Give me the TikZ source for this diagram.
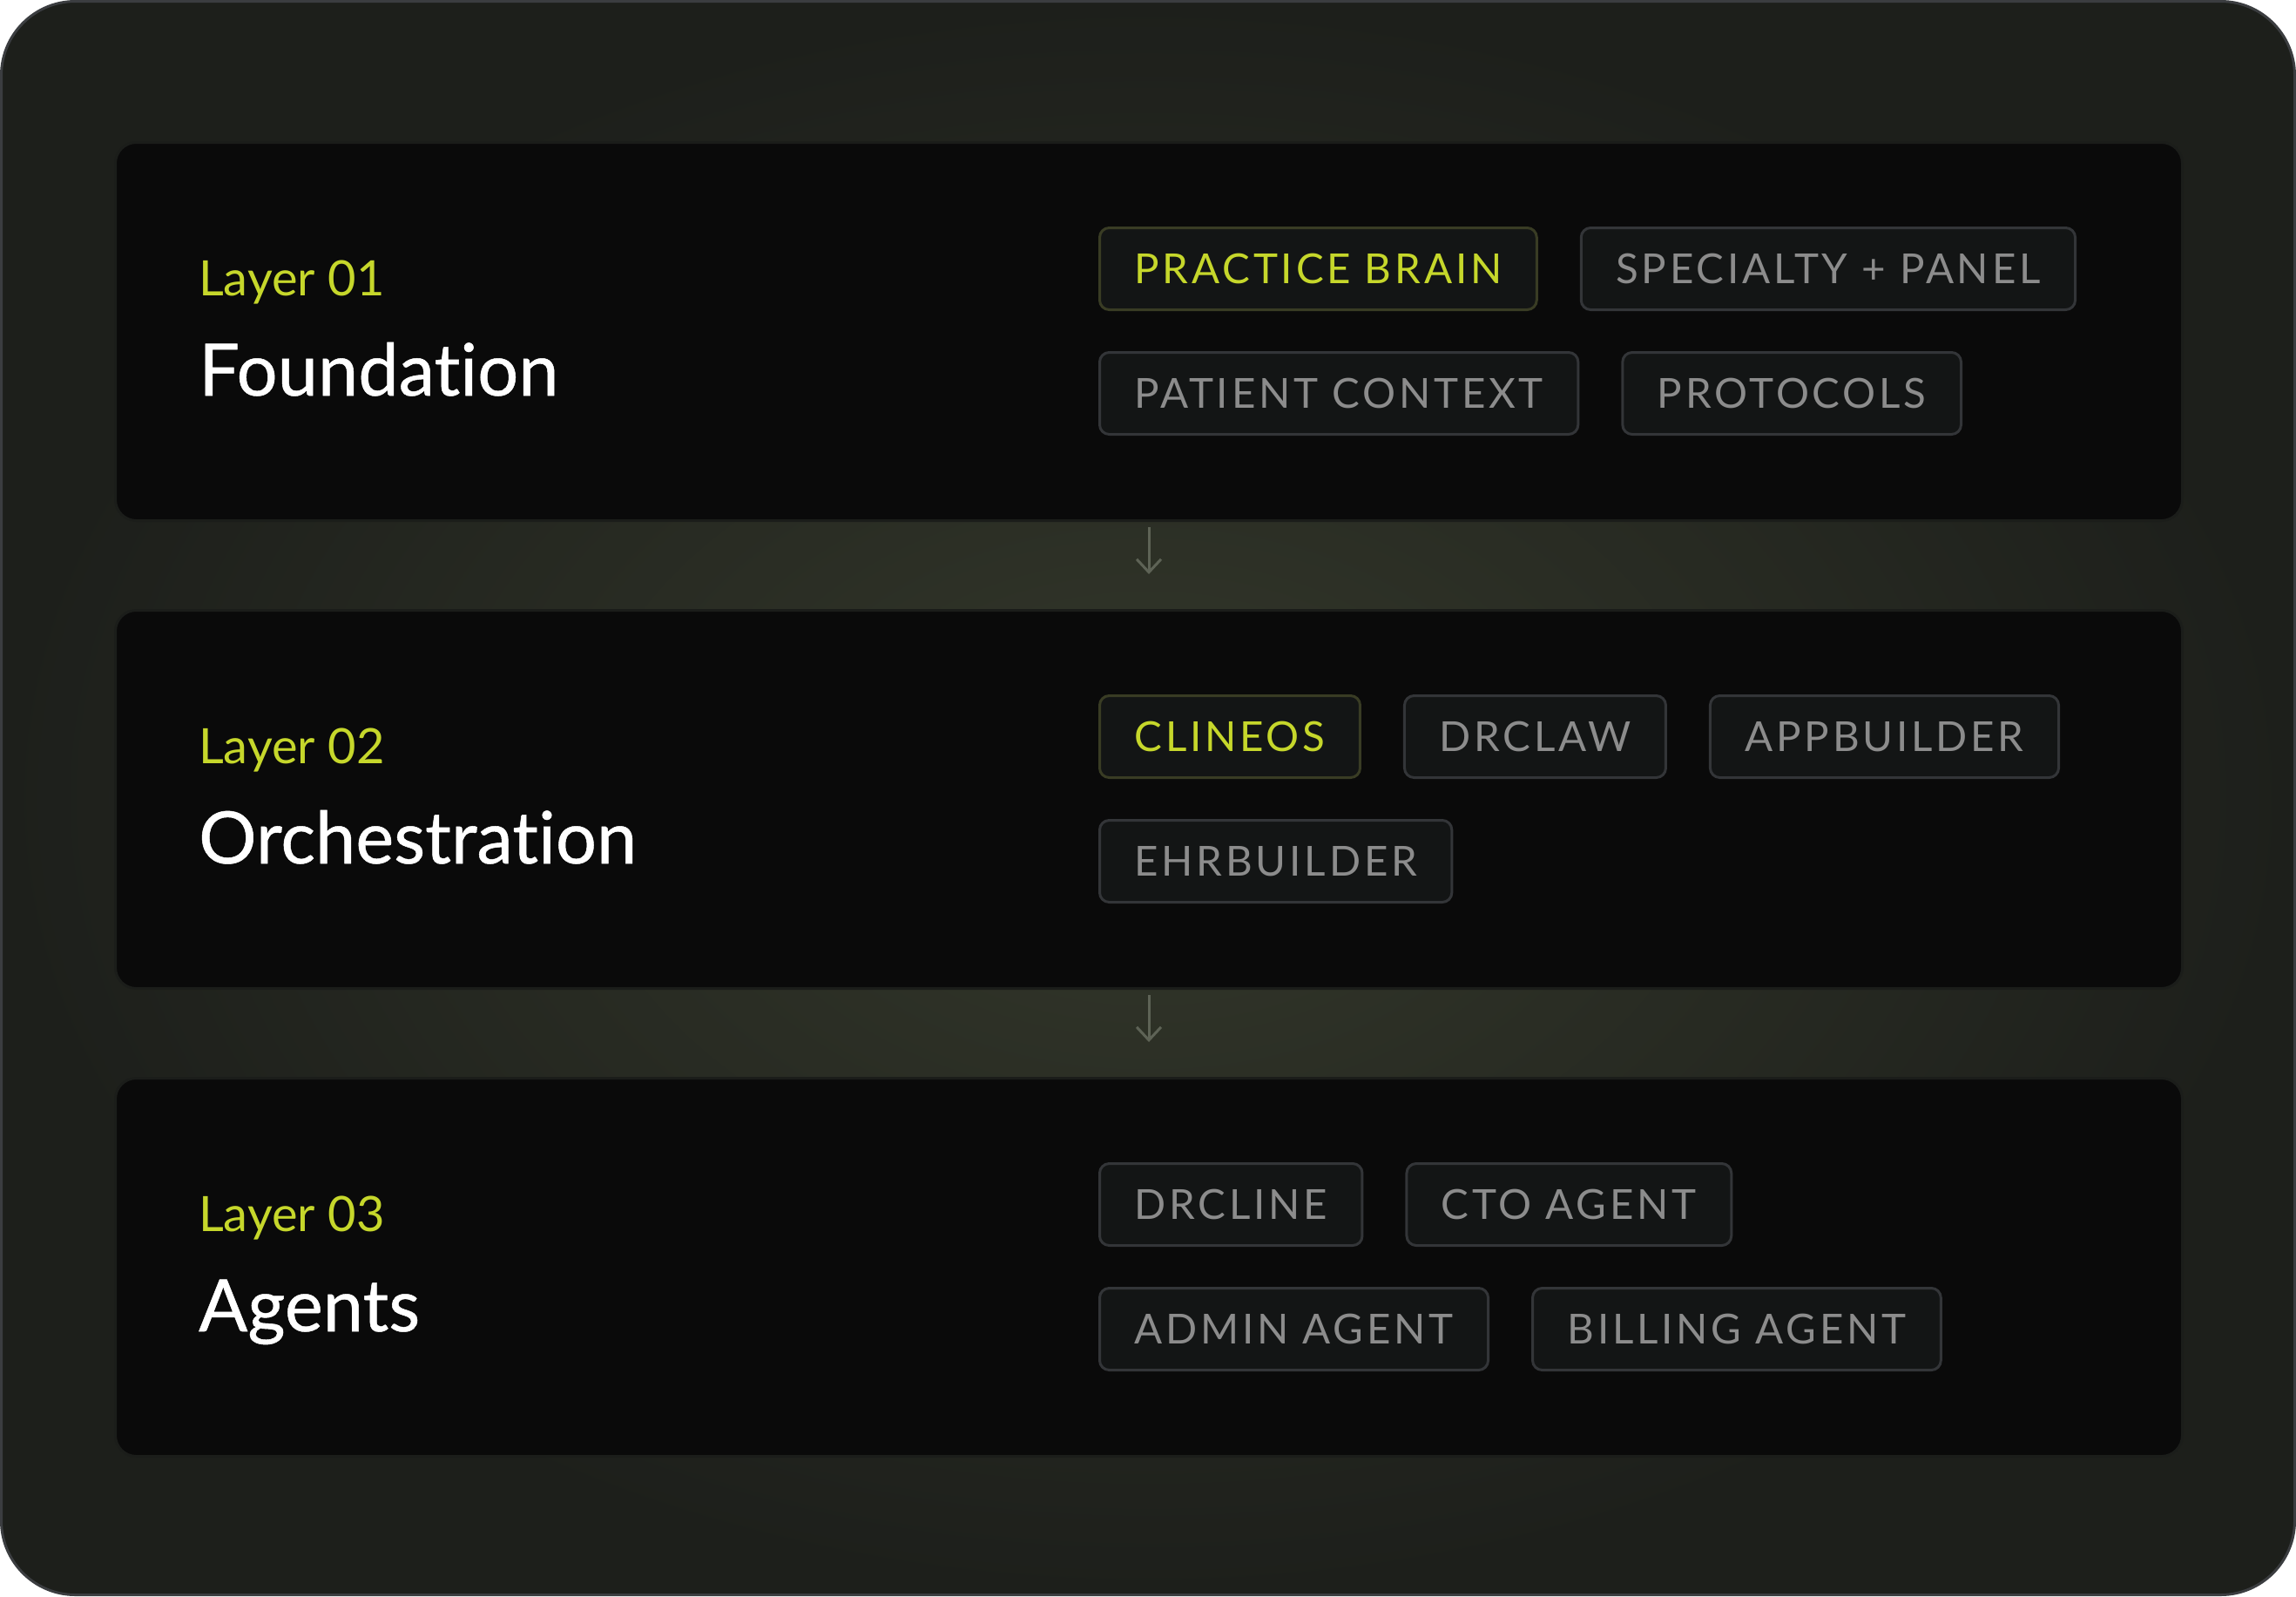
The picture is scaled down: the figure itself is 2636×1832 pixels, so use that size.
\documentclass[tikz,border=0pt]{standalone}
\usepackage{fontspec}
\setmainfont{Lato}[Ligatures=NoCommon]
\newfontfamily\tagfamily[LetterSpace=8]{Lato}
\newfontfamily\titlefamily[Ligatures=NoCommon, FakeBold=0.6]{Lato}
\usetikzlibrary{calc,positioning,arrows.meta}
\definecolor{bgmid}{HTML}{34382B}
\definecolor{bgedge}{HTML}{1D1F1B}
\definecolor{frameline}{HTML}{3B3D40}
\definecolor{panelbg}{HTML}{0A0A0A}
\definecolor{panelline}{HTML}{1B1D1A}
\definecolor{tagbg}{HTML}{131515}
\definecolor{tagline}{HTML}{333538}
\definecolor{taglinehi}{HTML}{393C24}
\definecolor{taggray}{HTML}{8C8C8C}
\definecolor{lime}{HTML}{C6D72B}
\definecolor{flowgray}{HTML}{5E6356}
\newcommand\tagfont{\tagfamily\fontsize{47.5}{50}\selectfont}
\tikzset{
  panel/.style={draw=panelline, line width=3pt, fill=panelbg, rounded corners=24pt,
    minimum width=2373pt, minimum height=434pt, anchor=north west, inner sep=0pt},
  layerno/.style={anchor=base west, inner sep=0pt, text=lime, font=\fontsize{56}{60}\selectfont},
  layertitle/.style={anchor=base west, inner sep=0pt, text=white, font=\titlefamily\fontsize{83}{90}\selectfont},
  tag/.style={draw=tagline, line width=3pt, fill=tagbg, rounded corners=11pt,
    minimum height=94pt, inner xsep=40pt, inner ysep=0pt, text=taggray, font=\tagfont},
  taghi/.style={tag, draw=taglinehi, text=lime},
  flow/.style={draw=flowgray, line width=3pt, -{Straight Barb[length=15pt,width=28pt]},
    shorten <=6pt, shorten >=40pt},
}
% panel with its layer number and title
\newcommand\layerpanel[4]{
  \node[panel] (#1) at (131,#2) {};
  \node[layerno] (#1-no) at ($ (131,#2) + (97,177) $) {Layer #3};
  \node[layertitle] (#1-title) at ($ (131,#2) + (97,292) $) {#4};
}
\begin{document}
\begin{tikzpicture}[x=1pt,y=-1pt]
  \useasboundingbox (0,0) rectangle (2636,1832);
  \draw[frameline, line width=3pt, rounded corners=85pt, shading=radial,
    inner color=bgmid, outer color=bgedge] (1.5,1.5) rectangle (2634.5,1830.5);

  \layerpanel{foundation}{162}{01}{Foundation}
  \layerpanel{orchestration}{699}{02}{Orchestration}
  \layerpanel{agents}{1236}{03}{Agents}

  \draw[flow] (foundation) -- (orchestration);
  \draw[flow] (orchestration) -- (agents);

  % layer 01
  \node[taghi, anchor=north west] (brain) at (1261,260) {PRACTICE BRAIN};
  \node[tag, right=48pt of brain] (specialty) {SPECIALTY + PANEL};
  \node[tag, below=46pt of brain.south west, anchor=north west] (patient) {PATIENT CONTEXT};
  \node[tag, right=48pt of patient] (protocols) {PROTOCOLS};

  % layer 02
  \node[taghi, anchor=north west] (clineos) at (1261,797) {CLINEOS};
  \node[tag, right=48pt of clineos] (drclaw) {DRCLAW};
  \node[tag, right=48pt of drclaw] (appbuilder) {APPBUILDER};
  \node[tag, below=46pt of clineos.south west, anchor=north west] (ehrbuilder) {EHRBUILDER};

  % layer 03
  \node[tag, anchor=north west] (drcline) at (1261,1334) {DRCLINE};
  \node[tag, right=48pt of drcline] (cto) {CTO AGENT};
  \node[tag, below=46pt of drcline.south west, anchor=north west] (admin) {ADMIN AGENT};
  \node[tag, right=48pt of admin] (billing) {BILLING AGENT};
\end{tikzpicture}
\end{document}
